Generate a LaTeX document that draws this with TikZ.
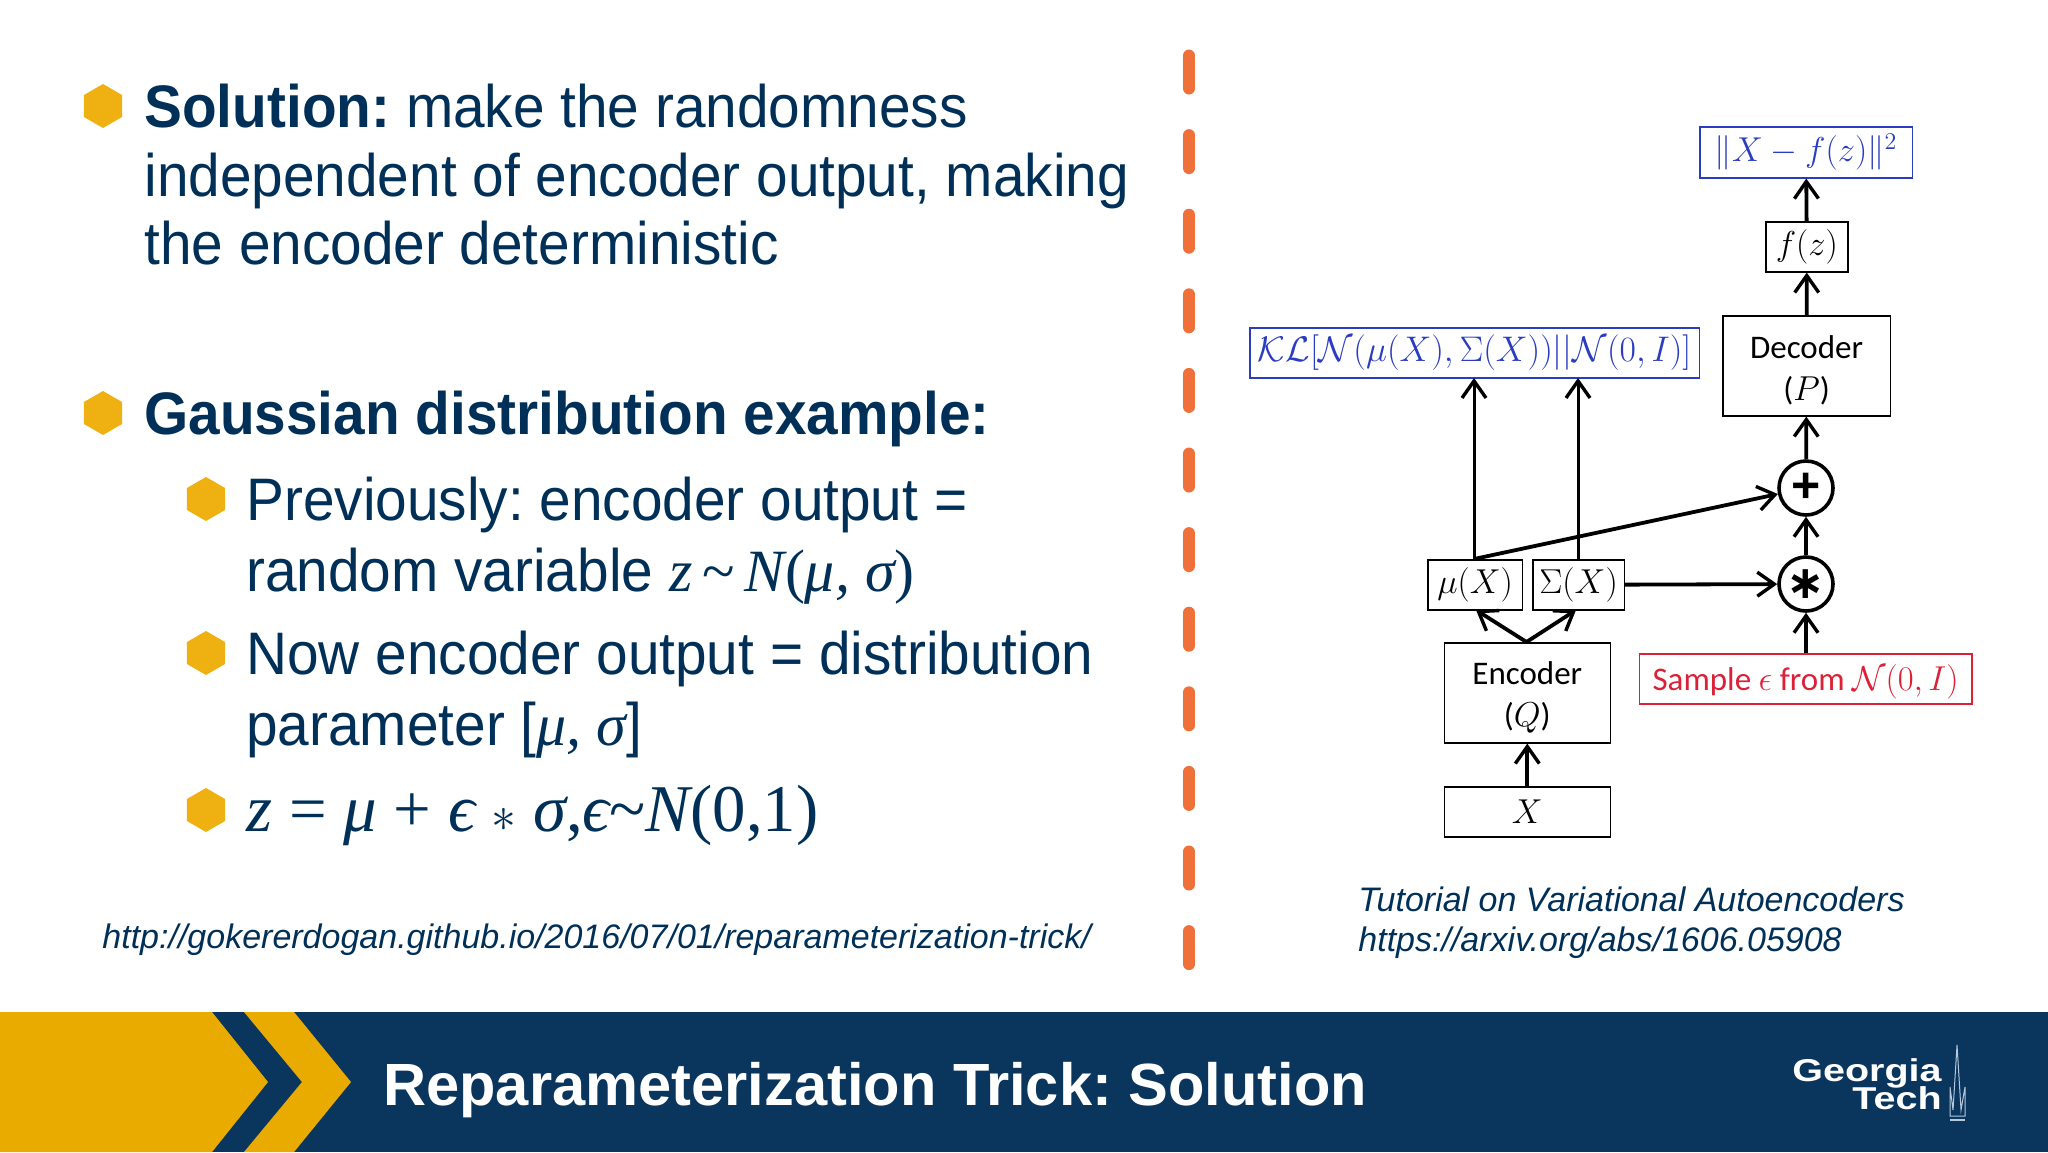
\documentclass[tikz,border=0pt]{standalone}
\usepackage{amsmath}
\usepackage{amssymb}
\usepackage{graphicx}
\usepackage{fontspec}
\setmainfont{Liberation Sans}
\newfontfamily\bodyfont[FakeStretch=0.946]{Liberation Sans}
\newfontfamily\logofont[FakeStretch=1.25]{Liberation Sans}
\newfontfamily\mathlike{Liberation Serif}
\newfontfamily\calib{Carlito}
\newfontfamily\opfont{DejaVu Sans}
\usetikzlibrary{arrows.meta,shapes.geometric}
\definecolor{gtnavy}{HTML}{003057}
\definecolor{gtband}{HTML}{0A365E}
\definecolor{gtgold}{HTML}{EAAB00}
\definecolor{gtbullet}{HTML}{EEB111}
\definecolor{gtdash}{HTML}{F0703A}
\definecolor{boxblue}{HTML}{2A3CC0}
\definecolor{boxred}{HTML}{DC2038}
\definecolor{gtspire}{HTML}{B5C8DC}
\tikzset{
	txt/.style={anchor=base west, inner sep=0pt, text=gtnavy, font=\bodyfont\fontsize{30}{36}\selectfont},
	cite/.style={txt, font=\fontsize{17}{20}\selectfont\itshape},
	hexa/.style={regular polygon, regular polygon sides=6, shape border rotate=30, fill=gtbullet, inner sep=0pt, minimum size=22pt},
	block/.style={draw, line width=0.8pt, inner sep=0pt, anchor=north west, font=\calib\fontsize{16.5}{21}\selectfont, align=center},
	bluebox/.style={block, draw=boxblue, text=boxblue},
	redbox/.style={block, draw=boxred, text=boxred},
	oper/.style={circle, draw, line width=1.8pt, minimum size=27pt, inner sep=0pt},
	link/.style={>={Straight Barb[length=8.5pt,width=12pt,line width=1.7pt]}, ->, line width=1.9pt},
	longlink/.style={link, line width=1.5pt},
}
\newcommand{\mth}[1]{{\mathlike\itshape #1}}
\frenchspacing
\begin{document}
\begin{tikzpicture}[x=0.5pt, y=-0.5pt]
	\useasboundingbox (0, 0) rectangle (2048, 1152);
	% bandeau
	\fill[gtband] (0, 1012) rectangle (2048, 1152);
	\fill[gtgold] (0, 1012) -- (212, 1012) -- (268, 1082) -- (212, 1152) -- (0, 1152) -- cycle;
	\fill[gtgold] (244, 1012) -- (294, 1012) -- (351, 1082) -- (294, 1152) -- (244, 1152) -- (302, 1082) -- cycle;
	\node[txt, text=white, font=\fontsize{29.8}{36}\selectfont\bfseries] (title) at (383, 1105) {Reparameterization Trick: Solution};
	% logo
	\node[anchor=base east, inner sep=0pt, text=white, font=\logofont\fontsize{15.8}{18}\selectfont\bfseries] (logoa) at (1942, 1081) {Georgia};
	\node[anchor=base east, inner sep=0pt, text=white, font=\logofont\fontsize{15.8}{18}\selectfont\bfseries] (logob) at (1942, 1109) {Tech};
	\draw[gtspire, line width=0.5pt] (1957, 1045) -- (1953, 1110) -- (1950, 1087) -- (1950, 1116) -- (1965, 1116) -- (1965, 1087) -- (1961, 1110) -- cycle;
	\draw[gtspire, line width=0.8pt] (1950, 1120) -- (1965, 1120);
	% separation
	\foreach \i in {0, ..., 11}
		\draw[gtdash, line width=6pt, line cap=round] (1189, {55.5+79.6*\i}) -- (1189, {88.5+79.6*\i});
	% puces
	\node[hexa] (puceA) at (103, 106) {};
	\node[hexa] (puceB) at (103, 413) {};
	\node[hexa] (puceC) at (206, 499) {};
	\node[hexa] (puceD) at (206, 653) {};
	\node[hexa] (puceE) at (206, 810) {};
	% texte
	\node[txt] (solA) at (144, 127) {\textbf{Solution:} make the randomness};
	\node[txt] (solB) at (144, 196) {independent of encoder output, making};
	\node[txt] (solC) at (144, 264) {the encoder deterministic};
	\node[txt, font=\bodyfont\fontsize{30}{36}\selectfont\bfseries] (gauss) at (144, 434) {Gaussian distribution example:};
	\node[txt] (prevA) at (246, 520) {Previously: encoder output =};
	\node[txt] (prevB) at (246, 591) {random variable \mth{z}{\mathlike\,\textasciitilde\,}\mth{N}{\mathlike(}\mth{μ, σ}{\mathlike)}};
	\node[txt] (nowA) at (246, 674) {Now encoder output = distribution};
	\node[txt] (nowB) at (246, 745) {parameter [\mth{μ, σ}]};
	\node[txt, font=\fontsize{33.4}{36}\selectfont\mathlike] (zeq) at (246, 831) {\mth{z} = \mth{μ} + \mth{ϵ} $\ast$ \mth{σ},\mth{ϵ}\textasciitilde\mth{N}(0,1)};
	\node[cite] (linkL) at (102, 948) {http://gokererdogan.github.io/2016/07/01/reparameterization-trick/};
	\node[cite] (linkA) at (1358, 911) {Tutorial on Variational Autoencoders};
	\node[cite] (linkB) at (1358, 951) {https://arxiv.org/abs/1606.05908};
	% schema
	\node[bluebox, minimum width=106.25pt, minimum height=25.5pt] (recon) at (1699, 126) {$\|X - f(z)\|^2$};
	\node[block, minimum width=41pt, minimum height=25pt] (fz) at (1765, 221) {$f(z)$};
	\node[block, minimum width=83.75pt, minimum height=50pt] (dec) at (1722, 315) {\rule{0pt}{16pt}Decoder\\($P$)};
	\node[bluebox, minimum width=224.8pt, minimum height=25pt] (kl) at (1249, 327) {\scalebox{1.03}{$\mathcal{KL}[\mathcal{N}(\mu(X),\Sigma(X))||\mathcal{N}(0,I)]$}};
	\node[block, minimum width=47.25pt, minimum height=25pt] (mu) at (1427, 559) {$\mu(X)$};
	\node[block, minimum width=45.75pt, minimum height=25pt] (sigma) at (1532, 559) {$\Sigma(X)$};
	\node[block, minimum width=83pt, minimum height=50pt] (enc) at (1443.5, 642) {\rule{0pt}{16pt}Encoder\\($Q$)};
	\node[block, minimum width=83pt, minimum height=25pt] (inp) at (1443.5, 786) {$X$};
	\node[redbox, minimum width=166.3pt, minimum height=25pt] (samp) at (1638.5, 653) {\rule{0pt}{15.5pt}Sample $\epsilon$ from $\mathcal{N}(0,I)$};
	\node[oper, font=\fontsize{25}{25}\selectfont\bfseries] (plus) at (1806, 488) {+};
	\node[oper, font=\opfont\fontsize{23}{23}\selectfont\bfseries] (star) at (1806, 584) {∗};
	% fleches
	\coordinate (muT) at (1474, 559);
	\coordinate (sigT) at (1578, 559);
	\coordinate (klA) at (1474, 378);
	\coordinate (klB) at (1578, 378);
	\coordinate (encT) at (1526.5, 642);
	\coordinate (muB) at (1476, 610);
	\coordinate (sigB) at (1576, 610);
	\draw[longlink] (muT) -- (klA);
	\draw[longlink] (sigT) -- (klB);
	\draw[link] (muT) -- (plus);
	\draw[link] (sigma) -- (star);
	\draw[link] (encT) -- (muB);
	\draw[link] (encT) -- (sigB);
	\draw[link] (inp) -- (enc);
	\draw[link] (samp.north -| star) -- (star);
	\draw[link] (star) -- (plus);
	\draw[link] (plus) -- (dec);
	\draw[link] (dec) -- (fz);
	\draw[link] (fz) -- (recon);
\end{tikzpicture}
\end{document}
